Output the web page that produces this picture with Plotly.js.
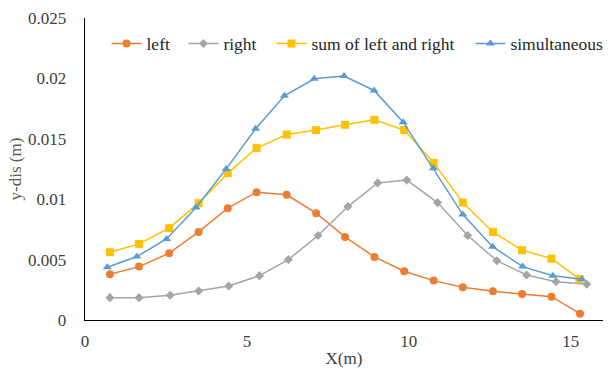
<!DOCTYPE html>
<html>
<head>
<meta charset="utf-8">
<script src="https://cdn.plot.ly/plotly-3.0.1.min.js"></script>
<style>html,body{margin:0;padding:0;background:#fff}#chart{width:608px;height:369px}</style>
</head>
<body>
<div id="chart"></div>
<script>
var xLeft = [0.77, 1.67, 2.6, 3.51, 4.41, 5.3, 6.23, 7.14, 8.03, 8.94, 9.86, 10.77, 11.67, 12.6, 13.5, 14.41, 15.29];
var yLeft = [0.00379, 0.00442, 0.00553, 0.00729, 0.00926, 0.01058, 0.01036, 0.00884, 0.00688, 0.00522, 0.00404, 0.00326, 0.00271, 0.00238, 0.00215, 0.00193, 0.00052];

var xRight = [0.77, 1.67, 2.63, 3.51, 4.44, 5.39, 6.28, 7.2, 8.12, 9.04, 9.94, 10.89, 11.82, 12.72, 13.64, 14.55, 15.5];
var yRight = [0.00185, 0.00185, 0.00205, 0.0024, 0.00282, 0.00367, 0.005, 0.00699, 0.00939, 0.01135, 0.01158, 0.00972, 0.00699, 0.00491, 0.00373, 0.00317, 0.00296];

var xSum = [0.77, 1.67, 2.6, 3.51, 4.41, 5.3, 6.23, 7.14, 8.03, 8.94, 9.86, 10.77, 11.67, 12.6, 13.5, 14.41, 15.27];
var ySum = [0.00561, 0.0063, 0.0076, 0.00967, 0.01216, 0.01423, 0.01535, 0.01572, 0.01616, 0.01657, 0.01572, 0.01301, 0.00972, 0.00729, 0.00578, 0.00508, 0.0034];

var xSim = [0.69, 1.6, 2.52, 3.43, 4.36, 5.27, 6.16, 7.08, 8.0, 8.93, 9.83, 10.76, 11.67, 12.59, 13.52, 14.45, 15.35];
var ySim = [0.00437, 0.00525, 0.00671, 0.00931, 0.01251, 0.01583, 0.01856, 0.01997, 0.02019, 0.019, 0.01638, 0.01257, 0.00873, 0.00607, 0.00442, 0.00367, 0.00337];

var names = ["left", "right", "sum of left and right", "simultaneous"];
var colors = ["#ED7D31", "#A5A5A5", "#FFC000", "#5B9BD5"];
var symbols = ["circle", "diamond", "square", "triangle-up"];
var sizes = [8, 7, 8, 8];
var xs = [xLeft, xRight, xSum, xSim];
var ys = [yLeft, yRight, ySum, ySim];
var legendIds = ["legend", "legend2", "legend3", "legend4"];
var legendX = [0.0415, 0.19, 0.36, 0.744];

var traces = names.map(function(n, i) {
  return {
    x: xs[i], y: ys[i], name: n, type: "scatter", mode: "lines+markers",
    legend: legendIds[i],
    line: {color: colors[i], width: 1.5},
    marker: {color: colors[i], symbol: symbols[i], size: sizes[i]}
  };
});

var fontFam = "Liberation Serif, Times New Roman, serif";
var layout = {
  width: 608, height: 369,
  margin: {l: 85, r: 5, t: 18, b: 49, pad: 0, autoexpand: false},
  paper_bgcolor: "#fff", plot_bgcolor: "#fff",
  font: {family: fontFam, size: 17, color: "#404040"},
  showlegend: true,
  xaxis: {
    range: [0, 16], tickvals: [0, 5, 10, 15], ticktext: ["0", "5", "10", "15"],
    showgrid: false, zeroline: false, showline: true, linecolor: "#000", linewidth: 1.3,
    ticks: "", ticklabelstandoff: 5, automargin: false,
    title: {text: "X(m)", font: {family: fontFam, size: 17, color: "#404040"}, standoff: 2}
  },
  yaxis: {
    range: [0, 0.025], tickvals: [0, 0.005, 0.01, 0.015, 0.02, 0.025],
    ticktext: ["0", "0.005", "0.01", "0.015", "0.02", "0.025"],
    showgrid: false, zeroline: false, showline: true, linecolor: "#000", linewidth: 1.3,
    ticks: "", ticklabelstandoff: 14, automargin: false,
    title: {text: "y-dis (m)", font: {family: fontFam, size: 17, color: "#595959"}, standoff: 2}
  }
};
legendIds.forEach(function(id, i) {
  layout[id] = {orientation: "h", x: legendX[i], y: 0.975, xanchor: "left", yanchor: "top",
    font: {family: fontFam, size: 17.5, color: "#262626"}, bgcolor: "rgba(0,0,0,0)", itemwidth: 30};
});

Plotly.newPlot("chart", traces, layout, {displayModeBar: false, staticPlot: true});
</script>
</body>
</html>
